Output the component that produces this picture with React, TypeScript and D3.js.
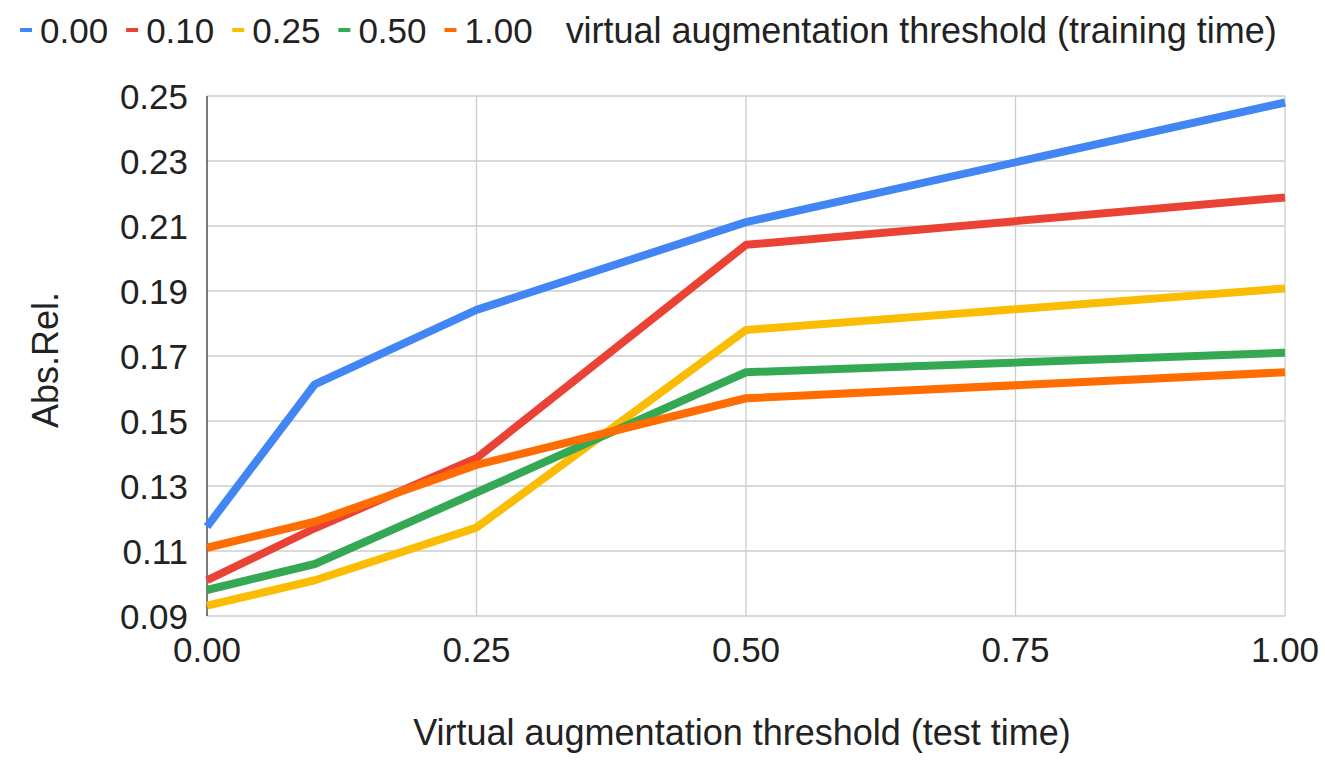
import { useEffect, useRef } from "react";
import * as d3 from "d3";

// test-time thresholds (x) and one series per training-time threshold
const testThresholds = [0, 0.1, 0.25, 0.5, 1.0];
const seriesNames = ["0.00", "0.10", "0.25", "0.50", "1.00"];
const seriesColors = ["#4285F4", "#EA4335", "#FBBC04", "#34A853", "#FF6D01"];

const train000 = [0.1175, 0.1613, 0.1842, 0.2112, 0.248];
const train010 = [0.1010, 0.1170, 0.1386, 0.2042, 0.2188];
const train025 = [0.0932, 0.1010, 0.1172, 0.1780, 0.1908];
const train050 = [0.0980, 0.1060, 0.1280, 0.1650, 0.1710];
const train100 = [0.1110, 0.1190, 0.1365, 0.1570, 0.1650];
const seriesValues = [train000, train010, train025, train050, train100];

const xTicks = [0, 0.25, 0.5, 0.75, 1.0];
const yTicks = [0.09, 0.11, 0.13, 0.15, 0.17, 0.19, 0.21, 0.23, 0.25];

const W = 1325;
const H = 769;
const font = "'Liberation Sans', Arial, sans-serif";

export default function App() {
  const svgRef = useRef<SVGSVGElement | null>(null);

  useEffect(() => {
    const svg = d3.select(svgRef.current);
    svg.selectAll("*").remove();
    svg.style("font-family", font);

    const left = 207, right = 1285, top = 96, bottom = 616;
    const x = d3.scaleLinear().domain([0, 1]).range([left, right]);
    const y = d3.scaleLinear().domain([0.09, 0.25]).range([bottom, top]);

    // grid
    const grid = svg.append("g").attr("stroke", "#cccccc").attr("stroke-width", 1.3);
    grid.selectAll("line.h")
      .data(yTicks)
      .enter().append("line")
      .attr("x1", left).attr("x2", right)
      .attr("y1", d => y(d)).attr("y2", d => y(d));
    grid.selectAll("line.v")
      .data(xTicks.slice(1))
      .enter().append("line")
      .attr("x1", d => x(d)).attr("x2", d => x(d))
      .attr("y1", top).attr("y2", bottom);

    // left axis line
    svg.append("line")
      .attr("x1", left).attr("x2", left)
      .attr("y1", top).attr("y2", bottom)
      .attr("stroke", "#333").attr("stroke-width", 1.3);

    // tick labels
    svg.append("g").selectAll("text")
      .data(yTicks)
      .enter().append("text")
      .attr("x", 188)
      .attr("y", d => y(d))
      .attr("dy", "0.36em")
      .attr("text-anchor", "end")
      .attr("font-size", 35)
      .attr("fill", "#222")
      .text(d => d.toFixed(2));

    svg.append("g").selectAll("text")
      .data(xTicks)
      .enter().append("text")
      .attr("x", d => x(d))
      .attr("y", 662)
      .attr("text-anchor", "middle")
      .attr("font-size", 35)
      .attr("fill", "#222")
      .text(d => d.toFixed(2));

    // lines
    const line = d3.line<number>()
      .x((_, i) => x(testThresholds[i]))
      .y(d => y(d));

    svg.append("g").selectAll("path")
      .data(seriesValues)
      .enter().append("path")
      .attr("d", d => line(d))
      .attr("fill", "none")
      .attr("stroke", (_, i) => seriesColors[i])
      .attr("stroke-width", 8)
      .attr("stroke-linejoin", "round");

    // axis titles
    svg.append("text")
      .attr("x", 742)
      .attr("y", 745)
      .attr("text-anchor", "middle")
      .attr("font-size", 36)
      .attr("fill", "#222")
      .text("Virtual augmentation threshold (test time)");

    svg.append("text")
      .attr("transform", "translate(58,360) rotate(-90)")
      .attr("text-anchor", "middle")
      .attr("font-size", 36)
      .attr("fill", "#222")
      .text("Abs.Rel.");

    // legend
    const legend = svg.append("g");
    let cx = 20;
    const ly = 30;
    seriesNames.forEach((name, i) => {
      legend.append("rect")
        .attr("x", cx).attr("y", ly - 2)
        .attr("width", 12).attr("height", 4)
        .attr("fill", seriesColors[i]);
      const t = legend.append("text")
        .attr("x", cx + 20)
        .attr("y", ly)
        .attr("dy", "0.36em")
        .attr("font-size", 35)
        .attr("fill", "#222")
        .text(name);
      const w = (t.node() as SVGTextElement).getComputedTextLength();
      cx += 20 + w + 18;
    });
    legend.append("text")
      .attr("x", cx + 15)
      .attr("y", ly)
      .attr("dy", "0.36em")
      .attr("font-size", 36)
      .attr("fill", "#222")
      .attr("textLength", 711)
      .text("virtual augmentation threshold (training time)");
  }, []);

  return (
    <svg
      ref={svgRef}
      width={W}
      height={H}
      style={{ position: "absolute", left: 0, top: 0, background: "#fff" }}
    />
  );
}
